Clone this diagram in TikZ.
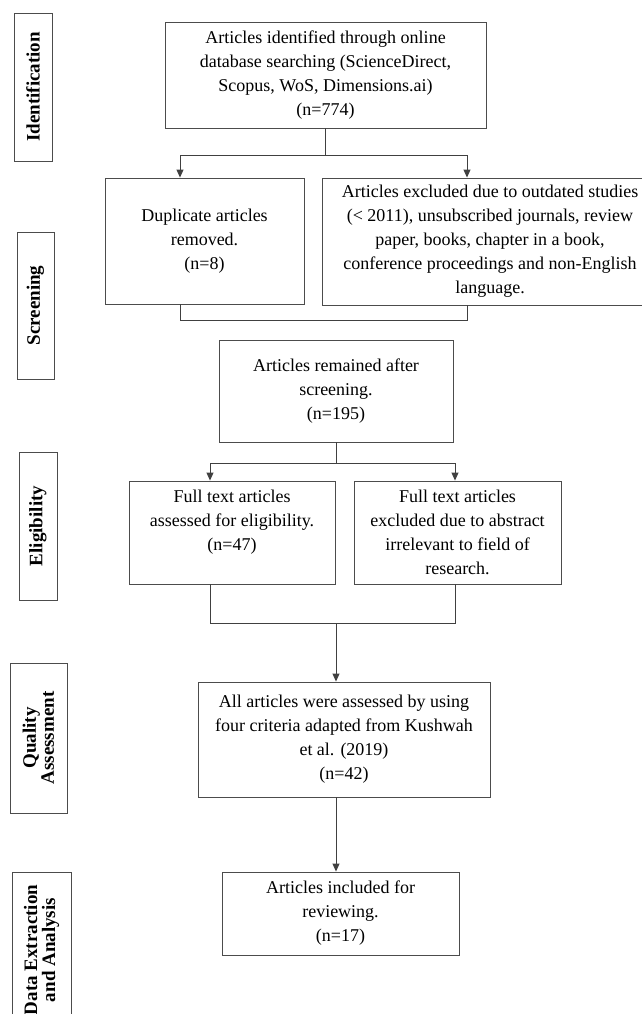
\documentclass[tikz,border=0pt]{standalone}
\usepackage{fontspec}
\setmainfont{Liberation Serif}
\usetikzlibrary{arrows.meta}

\begin{document}
\begin{tikzpicture}[x=1pt,y=-1pt,
    box/.style={draw=black!70,line width=0.9pt,align=center,inner sep=0pt,font=\fontsize{18}{24}\selectfont},
    phase/.style={draw=black!70,line width=0.9pt,align=center,inner sep=0pt,rotate=90,font=\fontsize{19}{18}\selectfont\bfseries},
    line/.style={draw=black!75,line width=0.9pt},
    arr/.style={-{Triangle[length=8pt,width=7pt]}}]
    \useasboundingbox (0,0) rectangle (642,1014);

    \node[phase,minimum width=148pt,minimum height=38pt] (idnt) at (33,87) {Identification};
    \node[phase,minimum width=147pt,minimum height=37pt] (scrn) at (35.5,305.5) {Screening};
    \node[phase,minimum width=148pt,minimum height=38pt] (elig) at (38,526) {Eligibility};
    \node[phase,minimum width=150pt,minimum height=57pt] (qlty) at (38.5,738) {Quality\\Assessment};
    \node[phase,minimum width=156pt,minimum height=59pt] (data) at (41.5,950) {Data Extraction\\and Analysis};

    \node[box,minimum width=321pt,minimum height=106pt] (srch) at (325.5,75) {Articles identified through online\\database searching (ScienceDirect,\\Scopus, WoS, Dimensions.ai)\\(n=774)};
    \node[box,minimum width=199pt,minimum height=126pt] (dupl) at (204.5,241) {Duplicate articles\\removed.\\(n=8)};
    \node[box,minimum width=336pt,minimum height=127pt] (excl) at (490,241.5) {Articles excluded due to outdated studies\\(< 2011), unsubscribed journals, review\\paper, books, chapter in a book,\\conference proceedings and non-English\\language.};
    \node[box,minimum width=234pt,minimum height=102pt] (remn) at (336,391) {Articles remained after\\screening.\\(n=195)};
    \node[box,minimum width=206pt,minimum height=103pt] (fte) at (232,532.5) {Full text articles\\assessed for eligibility.\\(n=47)\\\mbox{}};
    \node[box,minimum width=207pt,minimum height=103pt] (ftx) at (457.5,532.5) {Full text articles\\excluded due to abstract\\irrelevant to field of\\research.};
    \node[box,minimum width=292pt,minimum height=115pt] (qual) at (344,739.5) {All articles were assessed by using\\four criteria adapted from Kushwah\\et al. (2019)\\(n=42)};
    \node[box,minimum width=237pt,minimum height=83pt] (incl) at (340.5,913.5) {Articles included for\\reviewing.\\(n=17)};

    \draw[line] (srch.south) -- ++(0,27) coordinate (j1);
    \draw[line,arr] (j1) -| ([xshift=-24.5pt]dupl.north);
    \draw[line,arr] (j1) -| ([xshift=-23pt]excl.north);
    \draw[line] ([xshift=-24.5pt]dupl.south) -- ++(0,16) -| ([xshift=-23pt]excl.south);

    \draw[line] (remn.south) -- ++(0,21) coordinate (j2);
    \draw[line,arr] (j2) -| ([xshift=-22pt]fte.north);
    \draw[line,arr] (j2) -| ([xshift=-2.5pt]ftx.north);
    \draw[line] ([xshift=-22pt]fte.south) -- ++(0,39) coordinate (m2) -| ([xshift=-2.5pt]ftx.south);
    \draw[line,arr] (m2 -| remn.south) -- (remn.south |- qual.north);
    \draw[line,arr] (remn.south |- qual.south) -- (remn.south |- incl.north);
\end{tikzpicture}
\end{document}
